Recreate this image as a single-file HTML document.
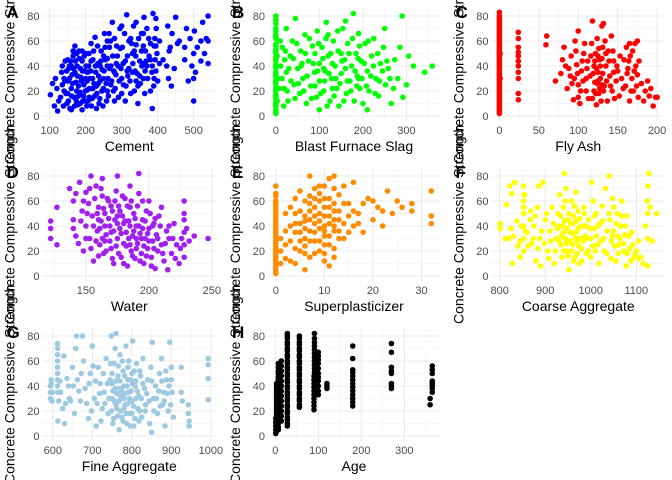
<!DOCTYPE html>
<html><head><meta charset="utf-8"><style>
body{margin:0;background:#fff}
svg{display:block;font-family:"Liberation Sans",sans-serif}
</style></head><body>
<svg id="chart" width="672" height="480" viewBox="0 0 672 480"></svg>
<script>
const strengthTicks=[0,20,40,60,80];
const cementPts=[[102,17],[108,26],[113,8],[116,30],[122,4],[125,12],[133,35],[140,20],[143,44],[148,10],[150,28],[153,38],[156,6],[160,22],[162,33],[165,48],[168,15],[170,56],[173,27],[176,40],[178,9],[181,52],[184,19],[186,31],[190,44],[192,12],[195,25],[198,36],[200,50],[203,8],[205,21],[208,40],[212,30],[215,58],[218,14],[220,45],[223,26],[226,63],[228,35],[231,18],[234,42],[237,10],[240,28],[243,52],[246,37],[249,22],[252,66],[255,45],[258,12],[262,30],[266,55],[270,40],[274,75],[277,20],[280,62],[284,33],[288,48],[291,15],[295,70],[298,38],[302,55],[305,25],[310,44],[314,81],[317,32],[320,60],[325,18],[330,50],[333,72],[337,36],[340,57],[345,24],[350,44],[355,66],[360,30],[362,79],[366,52],[370,40],[375,62],[380,20],[384,35],[387,82],[390,56],[393,45],[396,70],[400,28],[405,60],[425,40],[428,72],[432,52],[438,24],[440,66],[446,38],[450,79],[455,58],[475,45],[480,70],[485,28],[490,62],[495,40],[500,12],[502,68],[505,35],[510,55],[520,44],[525,75],[530,50],[535,62],[540,42],[540,80],[540,60],[385,6],[345,10],[280,12],[230,6],[190,5],[160,5],[140,30],[170,35],[200,30],[150,18],[175,20],[210,15],[260,40],[300,30],[330,35],[360,42],[390,30],[120,22],[135,25],[155,40],[185,38],[250,30],[270,25],
[130,15],[135,40],[138,8],[142,28],[145,18],[147,36],[152,12],[155,30],[158,44],[161,16],[163,26],[166,38],[169,8],[171,44],[174,12],[177,32],[180,24],[182,46],[185,10],[188,28],[191,36],[194,16],[196,48],[199,20],[201,40],[204,28],[207,12],[209,50],[211,22],[214,36],[216,8],[219,30],[222,52],[225,16],[227,40],[230,24],[233,56],[236,32],[239,14],[242,44],[245,20],[248,8],[251,36],[254,55],[257,26],[260,46],[263,16],[266,38],[269,60],[272,28],[275,48],[278,36],[282,22],[286,56],[290,40],[293,28],[296,54],[300,18],[304,42],[308,66],[312,24],[316,48],[320,38],[323,28],[327,58],[331,42],[335,20],[339,48],[343,34],[347,62],[352,26],[356,40],[360,56],[364,18],[368,44],[372,30],[376,48],[380,58],[385,40],[389,24],[392,62],[395,36],[398,50],[355,52],[325,62],[300,72],[280,35],[260,60],[240,40],[220,22],[200,12],[180,16],[160,40],[150,45],[260,20],[310,12],[340,28],[370,70],[395,78],[415,45],[435,55],[460,60],[475,55],[500,30],[520,60],[500,50],[430,30],[360,66],[340,75],[165,52],[175,50],[190,52],[205,35],[215,44],[235,26],[250,48],[265,66],[285,42],[315,36],[335,52],[350,32],[365,36],[380,45],[395,56],[405,42]];
const slagPts=[[0,2],[0,8],[0,14],[0,20],[0,26],[0,32],[0,38],[0,44],[0,50],[0,56],[0,62],[0,68],[0,74],[0,80],[0,5],[0,17],[0,29],[0,41],[0,53],[0,65],[0,35],[0,23],[0,11],[0,47],[5,30],[11,40],[15,55],[19,22],[24,35],[24,70],[28,12],[33,48],[38,60],[42,25],[45,78],[50,38],[55,18],[57,52],[62,30],[67,65],[70,10],[75,44],[80,24],[84,56],[89,35],[93,15],[95,68],[100,42],[100,28],[106,55],[110,20],[113,36],[116,75],[120,48],[124,12],[128,30],[132,60],[136,40],[140,22],[143,52],[145,8],[150,34],[154,70],[158,45],[162,18],[165,58],[170,28],[174,40],[178,82],[180,12],[184,50],[187,32],[190,66],[193,22],[196,44],[200,10],[205,58],[210,36],[214,20],[220,48],[225,62],[230,30],[236,16],[240,42],[247,55],[252,25],[258,38],[265,10],[273,45],[280,30],[290,80],[292,15],[305,48],[316,40],[342,35],[359,40],[100,5],[210,5],[160,76],[20,45],[60,42],[110,38],[130,22],[150,50],[190,30],[120,65],[90,50],
[0,3.5],[0,9.5],[0,15.5],[0,21.5],[0,27.5],[0,33.5],[0,39.5],[0,45.5],[0,51.5],[0,57.5],[0,63.5],[0,70],[0,77],[3,12],[3,48],[8,22],[10,60],[14,30],[18,8],[22,52],[26,20],[30,38],[35,28],[40,46],[44,14],[48,58],[52,26],[58,40],[64,20],[68,50],[72,32],[77,62],[82,14],[86,42],[90,24],[96,36],[98,58],[103,18],[108,46],[112,28],[115,62],[118,8],[122,34],[126,50],[130,42],[134,16],[138,30],[142,68],[147,26],[152,44],[156,12],[160,38],[164,28],[168,50],[172,20],[176,62],[182,36],[186,24],[189,46],[192,56],[198,30],[203,42],[208,24],[212,60],[218,32],[224,40],[228,18],[234,50],[238,28],[245,36],[250,70],[255,44],[262,30],[270,22],[285,55],[300,25]];
const flyAshPts=[[0,2],[0,5],[0,8],[0,11],[0,14],[0,17],[0,20],[0,23],[0,26],[0,29],[0,32],[0,35],[0,38],[0,41],[0,44],[0,47],[0,50],[0,53],[0,56],[0,59],[0,62],[0,65],[0,68],[0,71],[0,74],[0,77],[0,80],[0,83],[24,13],[24,18],[24,30],[24,40],[24,48],[24,55],[24,62],[24,67],[59,57],[60,64],[71,28],[78,34],[80,45],[82,55],[86,22],[88,38],[91,48],[94,13],[95,30],[96,60],[98,41],[100,25],[100,68],[102,10],[104,36],[107,50],[110,20],[112,44],[115,32],[117,58],[118,14],[120,40],[121,27],[122,50],[123,9],[124,62],[125,35],[126,18],[127,45],[128,30],[130,72],[131,55],[133,24],[135,40],[137,12],[138,52],[140,32],[142,64],[143,20],[145,44],[148,28],[150,36],[152,16],[155,30],[158,45],[160,24],[161,55],[163,38],[165,12],[166,48],[168,30],[170,20],[172,58],[173,40],[175,33],[176,15],[180,26],[183,12],[188,28],[192,22],[195,8],[198,15],[200,15],[100,15],[110,30],[120,20],[130,25],[135,50],[145,35],[118,76],[132,74],[90,32],[105,44],[125,28],
[0,3.5],[0,6.5],[0,9.5],[0,12.5],[0,15.5],[0,18.5],[0,21.5],[0,24.5],[0,27.5],[0,30.5],[0,33.5],[0,36.5],[0,39.5],[0,42.5],[0,45.5],[0,48.5],[0,51.5],[0,54.5],[0,57.5],[0,60.5],[0,63.5],[0,66.5],[0,69.5],[0,72.5],[0,75.5],[0,78.5],[1,30],[1,50],[24,35],[24,44],[24,51],[84,40],[92,26],[97,52],[99,34],[103,20],[106,28],[108,58],[111,38],[113,14],[116,48],[119,34],[121,44],[122,18],[123,38],[124,26],[125,48],[126,54],[127,22],[128,40],[129,12],[130,46],[131,34],[132,20],[134,60],[136,28],[139,44],[141,24],[144,52],[146,14],[149,40],[153,48],[157,22],[162,34],[164,44],[167,20],[169,52],[171,36],[174,24],[177,44],[185,20],[190,16],[175,60],[165,58]];
const waterPts=[[122,38],[122,30],[122,44],[127,55],[127,25],[137,70],[140,60],[140,45],[142,32],[145,75],[147,52],[148,20],[150,67],[150,40],[152,58],[153,30],[155,48],[156,12],[158,72],[159,36],[160,55],[161,25],[162,44],[163,64],[164,18],[165,50],[166,33],[168,60],[169,40],[170,22],[171,52],[172,10],[173,45],[174,68],[175,30],[176,56],[177,38],[178,15],[179,48],[180,26],[181,62],[182,35],[183,8],[184,44],[185,55],[186,20],[187,32],[188,50],[189,14],[190,40],[191,26],[192,66],[193,34],[194,18],[195,45],[196,10],[197,30],[198,52],[199,22],[200,38],[202,15],[203,28],[204,42],[205,6],[206,33],[207,20],[208,48],[210,25],[212,12],[214,36],[215,5],[216,30],[218,18],[220,42],[222,25],[224,10],[226,30],[228,45],[228,15],[228,60],[228,35],[230,38],[232,28],[236,32],[247,30],[154,80],[163,78],[192,82],[175,80],[185,72],[200,60],[210,55],[170,35],[180,42],[190,30],[165,28],[185,25],[195,38],[160,45],[175,48],
[140,38],[142,66],[144,26],[146,44],[148,60],[150,30],[151,50],[153,70],[154,22],[156,40],[157,62],[158,28],[159,50],[160,16],[161,38],[162,70],[163,30],[164,54],[165,40],[166,20],[167,62],[168,46],[169,28],[170,56],[171,14],[172,36],[173,60],[174,24],[175,42],[176,18],[177,52],[178,34],[179,64],[180,10],[181,44],[182,24],[183,56],[184,30],[185,40],[186,60],[187,16],[188,36],[189,46],[190,22],[191,56],[192,40],[193,12],[194,30],[195,60],[196,24],[197,44],[198,16],[199,34],[200,28],[201,50],[202,8],[203,40],[204,22],[205,46],[207,30],[209,40],[211,18],[213,26],[216,40],[219,30],[221,14],[225,22],[228,25],[228,50]];
const superPts=[[0,2],[0,6],[0,10],[0,14],[0,18],[0,22],[0,26],[0,30],[0,34],[0,38],[0,42],[0,46],[0,50],[0,54],[0,60],[0,4],[0,12],[0,20],[0,28],[0,36],[0,44],[2,25],[3,12],[4,35],[4,50],[5,20],[5,42],[6,30],[6,60],[7,15],[7,45],[8,28],[8,55],[8,70],[9,38],[9,20],[10,48],[10,32],[10,62],[11,25],[11,42],[11,78],[12,36],[12,52],[12,15],[13,45],[13,65],[14,30],[15,58],[16,40],[16,75],[17,50],[18,35],[19,62],[20,45],[21,55],[22,40],[23,68],[24,50],[25,60],[28,52],[28,58],[32,42],[32,48],[32,68],[7,80],[9,72],[11,8],[6,5],[3,40],[2,50],[1,30],[12,80],[14,72],[10,12],[5,35],[8,42],[9,50],[10,40],[6,38],[7,28],[11,55],[4,22],[6,48],[8,35],[9,60],[10,25],[12,45],[13,30],[7,52],
[0,8],[0,16],[0,24],[0,32],[0,40],[0,48],[0,52],[0,56],[0,58],[0,64],[0,66],[0,72],[1,10],[1,20],[2,14],[2,36],[3,28],[3,55],[4,10],[4,42],[4,62],[5,28],[5,52],[5,68],[6,18],[6,24],[6,44],[7,36],[7,58],[7,64],[8,18],[8,48],[8,62],[9,28],[9,44],[9,66],[10,18],[10,36],[10,55],[10,72],[11,32],[11,48],[11,62],[12,22],[12,40],[12,58],[12,70],[13,36],[13,52],[14,42],[14,58],[15,35],[15,48],[16,52],[17,42],[18,58],[20,60],[22,52],[26,55]];
const coarsePts=[[801,38],[801,42],[815,57],[820,30],[822,72],[825,38],[826,66],[828,10],[833,75],[840,24],[845,15],[848,40],[852,60],[852,72],[853,50],[853,30],[853,20],[855,65],[860,35],[867,45],[870,26],[875,40],[880,12],[883,55],[886,72],[888,30],[890,8],[895,75],[900,45],[905,20],[910,36],[915,55],[920,10],[924,30],[928,50],[932,65],[935,25],[937,15],[938,40],[940,55],[942,82],[944,30],[945,70],[948,20],[950,45],[952,5],[955,35],[958,60],[960,25],[962,48],[965,15],[967,67],[968,35],[970,28],[972,52],[975,10],[978,40],[980,22],[985,55],[988,32],[990,18],[995,45],[1000,30],[1002,75],[1005,60],[1008,38],[1012,50],[1015,25],[1018,10],[1020,42],[1025,56],[1028,30],[1032,70],[1035,18],[1040,80],[1042,45],[1045,28],[1048,62],[1050,36],[1055,12],[1058,50],[1062,25],[1065,40],[1068,60],[1072,20],[1075,33],[1078,8],[1080,48],[1085,22],[1090,35],[1095,15],[1100,20],[1105,28],[1110,15],[1115,10],[1120,40],[1124,60],[1125,72],[1125,50],[1125,30],[1125,8],[1128,82],[1130,55],[1135,28],[1145,50],[1000,15],[960,42],[940,35],[1010,20],[1050,55],[930,40],[975,30],[990,40],[1060,32],
[812,30],[830,32],[838,44],[845,28],[852,40],[853,55],[853,65],[856,36],[862,24],[868,52],[874,30],[878,48],[884,22],[892,36],[898,26],[903,50],[908,14],[912,28],[918,42],[922,20],[926,38],[930,28],[934,48],[936,32],[940,20],[942,44],[944,60],[946,26],[948,38],[950,16],[952,50],[954,28],[956,42],[958,20],[960,34],[962,12],[964,56],[966,30],[968,44],[970,18],[972,38],[974,24],[976,46],[978,30],[980,12],[982,40],[984,28],[986,50],[990,30],[994,20],[998,38],[1004,24],[1008,48],[1012,32],[1016,40],[1022,28],[1026,44],[1030,20],[1036,36],[1040,50],[1044,14],[1048,32],[1052,24],[1056,42],[1060,18],[1064,30],[1068,48],[1072,26],[1076,40],[1080,18],[1084,32],[1088,12],[1092,25],[1098,18],[1105,14]];
const finePts=[[594,40],[594,30],[596,45],[600,35],[612,74],[612,65],[612,55],[612,45],[613,12],[615,28],[620,35],[625,22],[628,64],[630,10],[640,40],[642,30],[650,55],[655,18],[658,70],[660,80],[662,45],[670,28],[675,80],[678,60],[682,38],[690,14],[695,50],[700,72],[705,30],[710,8],[715,55],[720,42],[725,22],[730,35],[735,62],[740,18],[745,45],[748,80],[750,30],[752,10],[755,58],[758,38],[760,82],[762,22],[765,48],[768,5],[770,65],[772,32],[775,15],[778,52],[780,40],[783,25],[785,72],[787,10],[790,55],[792,35],[795,18],[797,45],[800,28],[802,76],[805,8],[808,40],[812,58],[815,22],[818,32],[822,48],[825,15],[828,62],[832,38],[835,25],[840,45],[845,10],[848,55],[850,3],[852,75],[855,30],[860,40],[865,18],[870,50],[875,62],[878,25],[880,35],[884,8],[888,45],[892,20],[896,75],[900,55],[902,35],[905,15],[925,55],[925,35],[928,28],[943,25],[943,18],[945,12],[945,8],[993,62],[993,57],[993,46],[993,29],[780,30],[800,50],[760,25],[820,20],[790,45],[770,38],[750,42],[810,30],
[594,35],[596,42],[598,28],[612,40],[612,50],[612,60],[612,70],[614,35],[618,44],[632,26],[636,46],[645,28],[652,40],[666,36],[672,50],[686,26],[692,42],[698,20],[702,56],[708,44],[712,26],[718,34],[722,12],[728,50],[732,26],[738,42],[742,30],[746,58],[748,20],[750,50],[752,36],[754,14],[756,28],[758,70],[760,44],[762,34],[764,16],[766,56],[768,28],[770,44],[772,20],[774,36],[776,60],[778,12],[780,22],[782,48],[784,34],[786,18],[788,40],[790,26],[792,60],[794,30],[796,8],[798,36],[800,18],[802,42],[804,24],[806,52],[808,14],[810,44],[814,36],[818,12],[820,52],[824,30],[828,42],[834,20],[838,34],[844,28],[850,44],[856,20],[862,30],[868,36],[872,24],[876,44],[882,28],[886,52],[890,34],[894,40],[898,25],[900,45]];
const agePts=[[1,2],[1,5],[1,8],[1,11],[1,14],[3,4],[3,8],[3,12],[3,16],[3,20],[3,24],[3,28],[3,32],[3,36],[3,40],[3,42],[7,5],[7,10],[7,15],[7,20],[7,25],[7,30],[7,35],[7,40],[7,45],[7,50],[7,55],[7,58],[14,12],[14,20],[14,28],[14,36],[14,44],[14,52],[14,60],[28,8],[28,13],[28,18],[28,23],[28,28],[28,33],[28,38],[28,43],[28,48],[28,53],[28,58],[28,63],[28,68],[28,73],[28,78],[28,82],[56,23],[56,28],[56,33],[56,38],[56,43],[56,48],[56,53],[56,58],[56,63],[56,68],[56,73],[56,78],[56,80],[90,21],[90,27],[90,33],[90,39],[90,45],[91,51],[91,57],[91,63],[91,69],[91,75],[91,82],[100,33],[100,40],[100,47],[100,54],[100,61],[100,67],[120,38],[120,40],[120,42],[180,24],[180,30],[180,36],[180,42],[180,48],[180,53],[180,62],[180,72],[270,38],[270,42],[270,50],[270,55],[270,67],[270,74],[360,25],[360,30],[365,35],[365,40],[365,44],[365,50],[365,56],
[3,6],[3,10],[3,14],[3,18],[3,22],[3,26],[3,30],[3,34],[3,38],[7,7],[7,12],[7,17],[7,22],[7,27],[7,32],[7,37],[7,42],[7,47],[7,52],[14,16],[14,24],[14,32],[14,40],[14,48],[14,56],[28,10],[28,15],[28,20],[28,25],[28,30],[28,35],[28,40],[28,45],[28,50],[28,55],[28,60],[28,65],[28,70],[28,75],[28,80],[56,25],[56,30],[56,35],[56,40],[56,45],[56,50],[56,55],[56,60],[56,65],[56,70],[56,75],[90,24],[90,30],[90,36],[90,42],[90,48],[91,54],[91,60],[91,66],[91,72],[91,78],[100,36],[100,44],[100,50],[100,58],[100,64],[180,27],[180,33],[180,39],[180,45],[180,51],[270,40],[270,52],[365,38],[365,42],[365,53]];
const panels=[
 {id:'A',label:'Cement',pts:cementPts,color:'#0000ff',col:0,row:0,xmin:80,xmax:562,ticks:[100,200,300,400,500],minor:[150,250,350,450]},
 {id:'B',label:'Blast Furnace Slag',pts:slagPts,color:'#00ff00',col:1,row:0,xmin:-18,xmax:377,ticks:[0,100,200,300],minor:[50,150,250,350]},
 {id:'C',label:'Fly Ash',pts:flyAshPts,color:'#ff0000',col:2,row:0,xmin:-10,xmax:210,ticks:[0,50,100,150,200],minor:[25,75,125,175]},
 {id:'D',label:'Water',pts:waterPts,color:'#a020f0',col:0,row:1,xmin:115.5,xmax:253.3,ticks:[150,200,250],minor:[125,175,225]},
 {id:'E',label:'Superplasticizer',pts:superPts,color:'#ff8c00',col:1,row:1,xmin:-1.6,xmax:33.8,ticks:[0,10,20,30],minor:[5,15,25]},
 {id:'F',label:'Coarse Aggregate',pts:coarsePts,color:'#ffff00',col:2,row:1,xmin:782,xmax:1163,ticks:[800,900,1000,1100],minor:[850,950,1050]},
 {id:'G',label:'Fine Aggregate',pts:finePts,color:'#9ecae1',col:0,row:2,xmin:574,xmax:1013,ticks:[600,700,800,900,1000],minor:[650,750,850,950]},
 {id:'H',label:'Age',pts:agePts,color:'#000000',col:1,row:2,xmin:-17,xmax:383,ticks:[0,100,200,300],minor:[50,150,250,350]}
];
const colL=[42.5,268,491.5], colR=[216,440,665], rowY0=[116,276,436];
const NS='http://www.w3.org/2000/svg';
const svg=document.getElementById('chart');
function mk(tag,attrs,parent){const e=document.createElementNS(NS,tag);for(const k in attrs)e.setAttribute(k,attrs[k]);(parent||svg).appendChild(e);return e;}
panels.forEach(p=>{
 const L=colL[p.col],R=colR[p.col],y0=rowY0[p.row];
 const ys=v=>y0-v*1.25;
 const xs=v=>L+(v-p.xmin)/(p.xmax-p.xmin)*(R-L);
 const top=ys(86.6),bot=ys(-4);
 const g=mk('g',{});
 
 
 [10,30,50,70].forEach(v=>{const l=mk('line',{x1:L,x2:R,y1:ys(v),y2:ys(v),stroke:'#f0f0f0','stroke-width':0.6},g);});
 p.minor.forEach(v=>{const l=mk('line',{x1:xs(v),x2:xs(v),y1:top,y2:bot,stroke:'#f0f0f0','stroke-width':0.6},g);});
 strengthTicks.forEach(v=>{
  const l=mk('line',{x1:L,x2:R,y1:ys(v),y2:ys(v),stroke:'#ebebeb','stroke-width':1.1},g);
  
  const t=mk('text',{x:L-3,y:ys(v)+4,'text-anchor':'end','font-size':11,fill:'#4d4d4d'},g);t.textContent=v;
  
 });
 p.ticks.forEach(v=>{
  const l=mk('line',{x1:xs(v),x2:xs(v),y1:top,y2:bot,stroke:'#ebebeb','stroke-width':1.1},g);
  
  const t=mk('text',{x:xs(v),y:bot+13,'text-anchor':'middle','font-size':11,fill:'#4d4d4d'},g);t.textContent=v;
  
 });
 p.pts.forEach(d=>{
  const c=mk('circle',{cx:xs(d[0]),cy:ys(d[1]),r:2.8,fill:p.color},g);
  
 });
 const xt=mk('text',{x:(L+R)/2,y:bot+30,'text-anchor':'middle','font-size':14,fill:'#000'},g);xt.textContent=p.label;
 
 const cy=(top+bot)/2,cx=L-28;
 const yt=mk('text',{x:cx,y:cy,'text-anchor':'middle','font-size':14,fill:'#000',transform:'rotate(-90 '+cx+' '+cy+')'},g);yt.textContent='Concrete Compressive Strength';
 
 const tag=mk('text',{x:L-36,y:top+10,'font-size':17,'font-weight':'bold',fill:'#000'},g);tag.textContent=p.id;
 
});
</script>
</body></html>
